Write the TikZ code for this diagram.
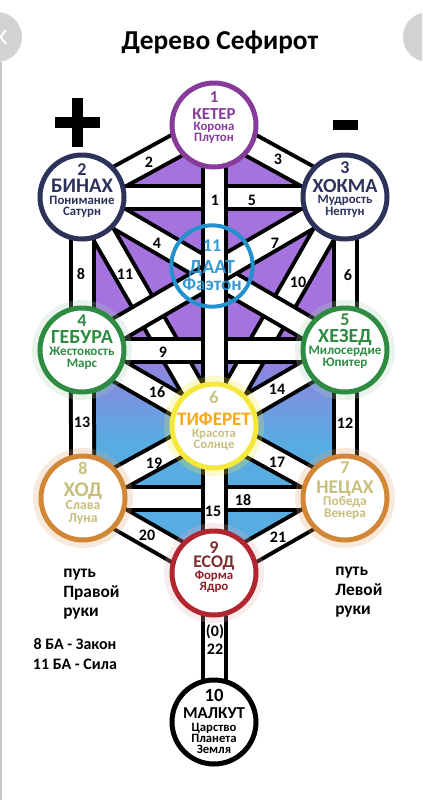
\documentclass[tikz,border=0pt]{standalone}
\usepackage{fontspec}
\setmainfont{Carlito}
\pgfdeclarelayer{bg}
\pgfsetlayers{bg,main}
\definecolor{keterc}{RGB}{135,60,155}
\definecolor{binahc}{RGB}{45,50,90}
\definecolor{daatc}{RGB}{35,145,205}
\definecolor{geburac}{RGB}{45,140,65}
\definecolor{tifc}{RGB}{245,232,60}
\definecolor{tifname}{RGB}{248,168,25}
\definecolor{tiftext}{RGB}{200,192,130}
\definecolor{hodc}{RGB}{210,135,55}
\definecolor{hodtext}{RGB}{200,190,125}
\definecolor{yesodc}{RGB}{178,38,48}
\definecolor{yesodtext}{RGB}{125,45,45}
\definecolor{purp}{RGB}{165,115,222}
\definecolor{blu}{RGB}{88,172,226}
\tikzset{
	ring/.style={circle, draw=#1, line width=3.75pt, fill=white, minimum size=63pt, inner sep=0pt},
	halo/.style={preaction={draw=#1, line width=12pt, opacity=0.25}},
	band/.style={draw=black, line width=3pt, double=white, double distance=14.25pt},
	pathnum/.style={font=\bfseries\fontsize{12}{12}\selectfont, inner sep=0pt},
	seftext/.style={anchor=north, align=center, inner sep=0pt,
			font={\bfseries\fontsize{10}{0}\selectfont\lineskiplimit-100pt\relax}},
	numsz/.store in=\numsz, namesz/.store in=\namesz, subsz/.store in=\subsz,
	numgap/.store in=\numgap, subgap/.store in=\subgap,
	numsz=13.5, namesz=14, subsz=9.6, numgap=15pt, subgap=8.5pt,
	sidenote/.style={inner sep=0pt, font={\bfseries\fontsize{13}{0}\selectfont\lineskiplimit-100pt\relax}}
}
\newcommand{\sefira}[4]{{\fontsize{\numsz}{0}\selectfont #1}\\[\numgap]{\fontsize{\namesz}{0}\selectfont #2}\\[\subgap]{\fontsize{\subsz}{0}\selectfont #3}\\[\subgap]{\fontsize{\subsz}{0}\selectfont #4}}

\begin{document}
\begin{tikzpicture}[x=0.75pt, y=-0.75pt]
	\useasboundingbox (0,0) rectangle (422,800);
	% Screen
	\begin{scope}
		\clip (0,0) rectangle (422,800);
		\fill[gray!35] (-3,37) circle (25);
		\fill[gray!35] (428,37) circle (25);
		\draw[white, line width=1.5pt] (6,30) -- (0.5,37) -- (6,44);
		\draw[gray!45, line width=1.2pt] (0.8,62) -- (0.8,800);
	\end{scope}
	% Title
	\node[font=\bfseries\fontsize{20.5}{24}\selectfont] (title) at (220,42) {Дерево Сефирот};
	\draw[line width=8.25pt] (55,122) -- (100,122) (77.5,98) -- (77.5,147);
	\draw[line width=7.5pt] (333,125) -- (358,125);
	% Sefirot
	\node[ring=keterc] (keter) at (214,125) {};
	\node[ring=binahc] (binah) at (82,197) {};
	\node[ring=binahc] (hokma) at (345,197) {};
	\node[ring=daatc, fill=none, line width=3pt, minimum size=61pt] (daat) at (212,266) {};
	\node[ring=geburac, halo=geburac!40] (gebura) at (82,350) {};
	\node[ring=geburac, halo=geburac!40] (hesed) at (345,350) {};
	\node[ring=tifc, halo=tifc] (tiferet) at (214,426) {};
	\node[ring=hodc, halo=hodc!70] (hod) at (83,498) {};
	\node[ring=hodc, halo=hodc!70] (necah) at (345,498) {};
	\node[ring=yesodc, halo=yesodc!35] (yesod) at (214,573) {};
	\node[ring=black] (malkut) at (214,722) {};
	% Names
	\node[seftext, text=keterc, numsz=12.5, namesz=12.6, subsz=9.6, numgap=12.75pt, subgap=8.3pt]
		(ketertxt) at ([yshift=25pt]keter.center) {\sefira{1}{КЕТЕР}{Корона}{Плутон}};
	\node[seftext, text=binahc, namesz=15.5, numgap=12.75pt]
		(binahtxt) at ([yshift=25pt]binah.center) {\sefira{2}{БИНАХ}{Понимание}{Сатурн}};
	\node[seftext, text=binahc, namesz=15, numgap=14pt]
		(hokmatxt) at ([yshift=26.5pt]hokma.center) {\sefira{3}{ХОКМА}{Мудрость}{Нептун}};
	\node[seftext, text=daatc, text opacity=0.9] (daattxt) at ([yshift=19.5pt]daat.center)
		{{\fontsize{13.5}{0}\selectfont 11}\\[16.5pt]{\fontsize{15}{0}\selectfont ДААТ}\\[12.5pt]{\fontsize{14.3}{0}\selectfont Фаэтон}};
	\node[seftext, text=geburac, namesz=15, subsz=9.8, numgap=13pt, subgap=9pt]
		(geburatxt) at ([yshift=26.5pt]gebura.center) {\sefira{4}{ГЕБУРА}{Жестокость}{Марс}};
	\node[seftext, text=geburac, namesz=15, subsz=9.8, numgap=13pt, subgap=9pt]
		(hesedtxt) at ([yshift=27.5pt]hesed.center) {\sefira{5}{ХЕЗЕД}{Милосердие}{Юпитер}};
	\node[seftext, text=tiftext, namesz=14.3, subsz=9.6, numgap=16.5pt]
		(tiferettxt) at ([yshift=26pt]tiferet.center) {\sefira{6}{\color{tifname}ТИФЕРЕТ}{Красота}{Солнце}};
	\node[seftext, text=hodtext, namesz=15.7, subsz=10.3, numgap=16pt, subgap=9.75pt]
		(hodtxt) at ([yshift=27pt]hod.center) {\sefira{8}{ХОД}{Слава}{Луна}};
	\node[seftext, text=hodtext, namesz=14.6, subsz=10, numgap=15pt, subgap=9pt]
		(necahtxt) at ([yshift=27pt]necah.center) {\sefira{7}{НЕЦАХ}{Победа}{Венера}};
	\node[seftext, text=yesodtext, namesz=13.3, numgap=11pt]
		(yesodtxt) at ([yshift=24pt]yesod.center) {\sefira{9}{ЕСОД}{\color{yesodc!80!black}Форма}{\color{yesodc!80!black}Ядро}};
	\node[seftext] (malkuttxt) at ([yshift=24.5pt]malkut.center)
		{{\fontsize{14}{0}\selectfont 10}\\[12.75pt]{\fontsize{12.5}{0}\selectfont МАЛКУТ}\\[9.75pt]{\fontsize{9.5}{0}\selectfont Царство}\\[8pt]{\fontsize{9.5}{0}\selectfont Планета}\\[8pt]{\fontsize{9.5}{0}\selectfont Земля}};
	% Path numbers
	\foreach \n/\x/\y in {1/215/200, 2/149/162, 3/278/159, 4/157/243, 5/252/200, 6/348/275, 7/275/243,
			8/81/274, 9/163/352, 10/298/282, 11/125/274, 12/345/423, 13/82/422, 14/277/389, 15/213/511,
			16/157/392, 17/277/462, 18/243/500, 19/154/463, 20/147/535, 21/278/537, 22/215/649}
		\node[pathnum] (p\n) at (\x,\y) {\n};
	\node[pathnum] (p0) at (215,632) {(0)};
	% Notes
	\node[sidenote, align=left, anchor=north west] (rightway) at (63,569) {путь\\[14.6pt]Правой\\[14.6pt]руки};
	\node[sidenote, align=left, anchor=north west] (leftway) at (335,567) {путь\\[14.6pt]Левой\\[14.6pt]руки};
	\node[sidenote, align=center, anchor=north, font={\bfseries\fontsize{12}{0}\selectfont\lineskiplimit-100pt\relax}]
		(arcana) at (75,638) {8 БА - Закон\\[15pt]11 БА - Сила};
	% Paths and field
	\begin{pgfonlayer}{bg}
		\begin{scope}
			\clip (keter.center) -- (hokma.center) -- (hesed.center) -- (necah.center) -- (yesod.center)
				-- (hod.center) -- (gebura.center) -- (binah.center) -- cycle;
			\fill[purp] (0,80) rectangle (422,336);
			\shade[top color=purp, bottom color=blu] (0,335) rectangle (422,441);
			\fill[blu] (0,440) rectangle (422,620);
		\end{scope}
		\draw[band] (binah.center) -- (tiferet.center);
		\draw[band] (hokma.center) -- (tiferet.center);
		\draw[band] (binah.center) -- (hesed.center);
		\draw[band] (hokma.center) -- (gebura.center);
		\foreach \a/\b in {keter/binah, keter/hokma, binah/hokma, binah/gebura, hokma/hesed, gebura/hesed,
				gebura/tiferet, hesed/tiferet, gebura/hod, hesed/necah, hod/tiferet, necah/tiferet,
				hod/necah, hod/yesod, necah/yesod}
			\draw[band] (\a.center) -- (\b.center);
		\draw[band] (keter.center) -- (malkut.center);
	\end{pgfonlayer}
\end{tikzpicture}
\end{document}
